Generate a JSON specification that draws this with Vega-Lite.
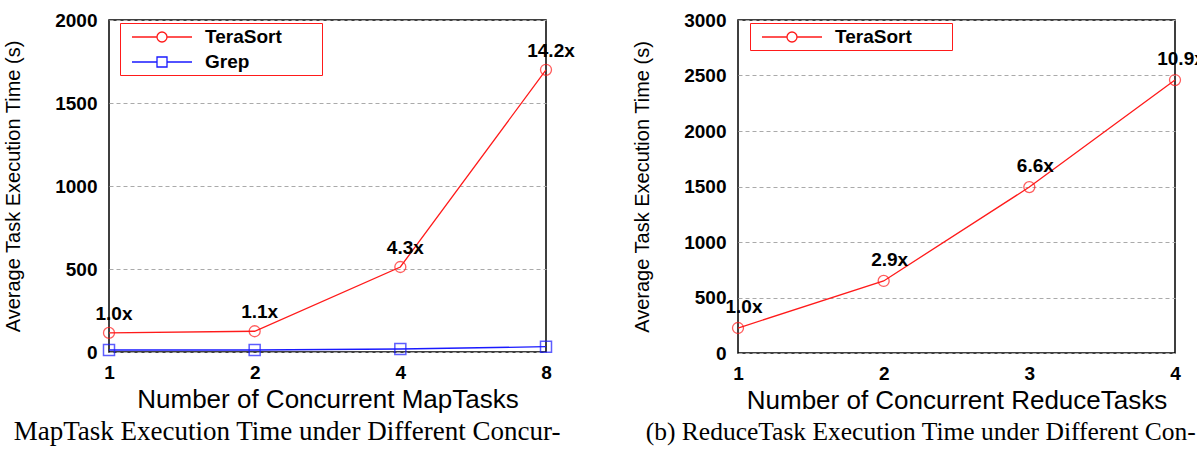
{
  "$schema": "https://vega.github.io/schema/vega-lite/v6.json",
  "background": "white",
  "padding": {"left": 2, "top": 10, "right": 0, "bottom": 0},
  "bounds": "flush",
  "spacing": 192,
  "config": {
    "view": {"stroke": "#000", "strokeWidth": 1.5},
    "axis": {"domain": false, "ticks": false, "labelFont": "Liberation Sans", "labelFontWeight": "bold", "labelFontSize": 19, "labelColor": "#000", "titleFont": "Liberation Sans", "titleFontWeight": "normal", "titleColor": "#000", "gridColor": "#aaaaaa", "gridDash": [4, 3], "gridWidth": 1},
    "axisX": {"grid": false, "labelAngle": 0, "labelPadding": 11, "titleFontSize": 26, "titlePadding": 4},
    "axisY": {"grid": true, "labelPadding": 12, "titleFontSize": 20, "titlePadding": 31, "format": "d"},
    "title": {"font": "Liberation Serif", "fontSize": 26, "fontWeight": "normal", "color": "#000"}
  },
  "datasets": {
    "map": [
      {"series": "TeraSort", "n": 1, "time": 115, "label": "1.0x"},
      {"series": "TeraSort", "n": 2, "time": 125, "label": "1.1x"},
      {"series": "TeraSort", "n": 4, "time": 512, "label": "4.3x"},
      {"series": "TeraSort", "n": 8, "time": 1700, "label": "14.2x"},
      {"series": "Grep", "n": 1, "time": 12, "label": ""},
      {"series": "Grep", "n": 2, "time": 12, "label": ""},
      {"series": "Grep", "n": 4, "time": 18, "label": ""},
      {"series": "Grep", "n": 8, "time": 32, "label": ""}
    ],
    "reduce": [
      {"series": "TeraSort", "n": 1, "time": 225, "label": "1.0x"},
      {"series": "TeraSort", "n": 2, "time": 649, "label": "2.9x"},
      {"series": "TeraSort", "n": 3, "time": 1495, "label": "6.6x"},
      {"series": "TeraSort", "n": 4, "time": 2459, "label": "10.9x"}
    ]
  },
  "hconcat": [
    {
      "width": 437,
      "height": 332,
      "data": {"name": "map"},
      "title": {"text": "MapTask Execution Time under Different Concur-", "orient": "bottom", "anchor": "start", "frame": "bounds", "offset": 7, "dx": 10, "fontSize": 27},
      "encoding": {
        "x": {"field": "n", "type": "ordinal", "scale": {"type": "point", "padding": 0}, "axis": {"title": "Number of Concurrent MapTasks"}},
        "y": {"field": "time", "type": "quantitative", "scale": {"domain": [0, 2000], "nice": false}, "axis": {"values": [0, 500, 1000, 1500, 2000], "title": "Average Task Execution Time (s)"}}
      },
      "layer": [
        {
          "mark": {"type": "line", "strokeWidth": 1.3},
          "encoding": {
            "color": {"field": "series", "type": "nominal", "scale": {"domain": ["TeraSort", "Grep"], "range": ["#ff1a1a", "#1a1aff"]},
              "legend": {"title": null, "orient": "none", "legendX": 11, "legendY": 3, "strokeColor": "#ff1a1a", "padding": 3, "rowPadding": 4, "labelFont": "Liberation Sans", "labelFontSize": 19, "labelFontWeight": "bold", "labelColor": "#000", "symbolSize": 400, "symbolStrokeWidth": 1.3, "symbolOffset": 28, "labelOffset": 32,
                "labelExpr": "datum.label + '\u00a0\u00a0\u00a0\u00a0\u00a0\u00a0\u00a0\u200b'",
                "encode": {"symbols": {"update": {"shape": {"signal": "datum.value === 'Grep' ? 'M-3,0H-0.5M0.5,0H3M-0.5,-0.5H0.5V0.5H-0.5Z' : 'M-3,0H-0.5M0.5,0A0.5,0.5 0 1 1 -0.5,0A0.5,0.5 0 1 1 0.5,0M0.5,0H3'"}}}}}
            },
            "sort": {"field": "n"}
          }
        },
        {
          "transform": [{"filter": "datum.series === 'TeraSort'"}],
          "mark": {"type": "point", "filled": false, "size": 121, "strokeWidth": 1.3, "shape": "circle", "color": "#ff1a1a"}
        },
        {
          "transform": [{"filter": "datum.series === 'Grep'"}],
          "mark": {"type": "point", "filled": false, "size": 121, "strokeWidth": 1.5, "shape": "square", "color": "#1a1aff"}
        },
        {
          "transform": [{"filter": "datum.series === 'TeraSort'"}],
          "mark": {"type": "text", "font": "Liberation Sans", "fontWeight": "bold", "fontSize": 19, "color": "#000", "dx": 5, "dy": -19, "baseline": "middle"},
          "encoding": {"text": {"field": "label"}}
        }
      ]
    },
    {
      "width": 437,
      "height": 333,
      "data": {"name": "reduce"},
      "title": {"text": "(b) ReduceTask Execution Time under Different Con-", "orient": "bottom", "anchor": "start", "frame": "bounds", "offset": 7, "dx": 13, "fontSize": 25.5},
      "encoding": {
        "x": {"field": "n", "type": "ordinal", "scale": {"type": "point", "padding": 0}, "axis": {"title": "Number of Concurrent ReduceTasks"}},
        "y": {"field": "time", "type": "quantitative", "scale": {"domain": [0, 3000], "nice": false}, "axis": {"values": [0, 500, 1000, 1500, 2000, 2500, 3000], "title": "Average Task Execution Time (s)"}}
      },
      "layer": [
        {
          "mark": {"type": "line", "strokeWidth": 1.3},
          "encoding": {
            "color": {"field": "series", "type": "nominal", "scale": {"domain": ["TeraSort"], "range": ["#ff1a1a"]},
              "legend": {"title": null, "orient": "none", "legendX": 12, "legendY": 3, "strokeColor": "#ff1a1a", "padding": 3, "rowPadding": 4, "labelFont": "Liberation Sans", "labelFontSize": 19, "labelFontWeight": "bold", "labelColor": "#000", "symbolSize": 400, "symbolStrokeWidth": 1.3, "symbolOffset": 28, "labelOffset": 32,
                "labelExpr": "datum.label + '\u00a0\u00a0\u00a0\u00a0\u00a0\u00a0\u00a0\u200b'",
                "encode": {"symbols": {"update": {"shape": {"signal": "'M-3,0H-0.5M0.5,0A0.5,0.5 0 1 1 -0.5,0A0.5,0.5 0 1 1 0.5,0M0.5,0H3'"}}}}}
            },
            "sort": {"field": "n"}
          }
        },
        {
          "mark": {"type": "point", "filled": false, "size": 121, "strokeWidth": 1.3, "shape": "circle", "color": "#ff1a1a"}
        },
        {
          "mark": {"type": "text", "font": "Liberation Sans", "fontWeight": "bold", "fontSize": 19, "color": "#000", "dx": 6, "dy": -21, "baseline": "middle"},
          "encoding": {"text": {"field": "label"}}
        }
      ]
    }
  ],
  "resolve": {"scale": {"color": "independent"}, "legend": {"color": "independent"}}
}
